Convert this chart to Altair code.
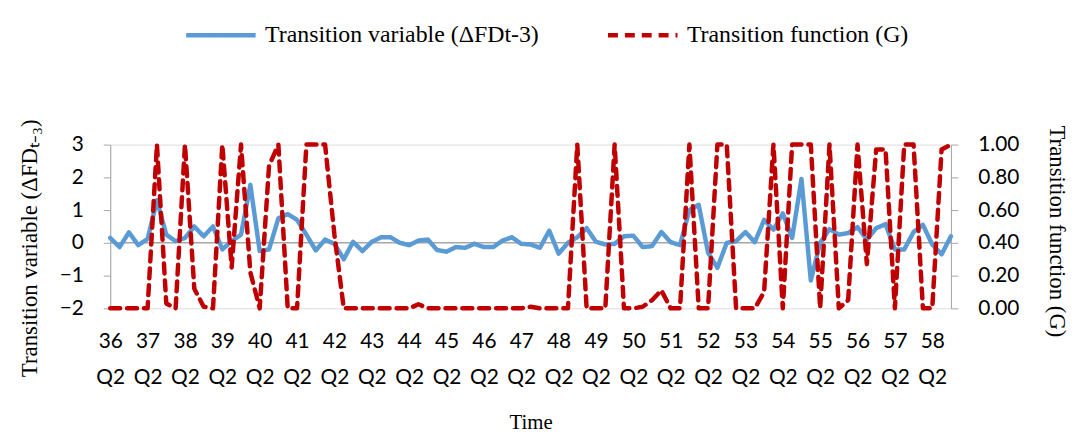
import altair as alt
import pandas as pd

# Quarterly periods 36 Q2 ... 58 Q4 (91 observations)
years = list(range(36, 59))
periods = []
for i in range(91):
    y = 36 + (i + 1) // 4
    q = (i + 1) % 4 + 1
    periods.append(f"{y} Q{q}")
tick_labels = [f"{y} Q2" for y in years]

transition_variable = [
    0.15, -0.13, 0.32, -0.07, 0.12, 1.30, 0.25, 0.05, 0.15, 0.50,
    0.20, 0.50, -0.20, 0.05, 0.25, 1.77, -0.25, -0.20, 0.75, 0.88,
    0.70, 0.25, -0.23, 0.10, -0.03, -0.50, 0.03, -0.25, 0.03, 0.17,
    0.17, 0.00, -0.07, 0.07, 0.10, -0.22, -0.27, -0.13, -0.15, -0.03,
    -0.13, -0.13, 0.07, 0.17, -0.03, -0.05, -0.15, 0.37, -0.33, 0.00,
    0.17, 0.45, 0.03, -0.05, -0.03, 0.20, 0.22, -0.13, -0.10, 0.33,
    0.02, -0.07, 1.00, 1.16, -0.30, -0.76, 0.00, 0.05, 0.33, 0.02,
    0.70, 0.40, 0.90, 0.15, 1.95, -1.15, 0.00, 0.42, 0.25, 0.30,
    0.48, 0.10, 0.45, 0.57, -0.20, -0.20, 0.33, 0.55, -0.05, -0.35,
    0.20,
]

transition_function = [
    0.00, 0.00, 0.00, 0.00, 0.00, 1.00, 0.03, 0.00, 1.00, 0.12,
    0.01, 0.00, 1.00, 0.25, 1.00, 0.22, 0.00, 0.87, 1.00, 0.00,
    0.00, 1.00, 1.00, 1.00, 0.45, 0.00, 0.00, 0.00, 0.00, 0.00,
    0.00, 0.00, 0.00, 0.025, 0.00, 0.00, 0.00, 0.00, 0.00, 0.00,
    0.00, 0.00, 0.00, 0.00, 0.00, 0.01, 0.00, 0.00, 0.00, 0.00,
    1.00, 0.00, 0.00, 0.00, 1.00, 0.00, 0.00, 0.01, 0.05, 0.11,
    0.00, 0.00, 1.00, 0.00, 0.00, 1.00, 1.00, 0.00, 0.00, 0.00,
    0.10, 1.00, 0.00, 1.00, 1.00, 1.00, 0.00, 1.00, 0.00, 0.05,
    1.00, 0.27, 0.97, 0.97, 0.00, 1.00, 1.00, 0.00, 0.00, 0.97,
    1.00,
]

series_names = ["Transition variable (ΔFDt-3)", "Transition function (G)"]
series_colors = ["#5b9bd5", "#c00000"]
series_dashes = [[1, 0], [10, 7]]

df = pd.DataFrame({
    "t": periods * 2,
    "value": transition_variable + transition_function,
    "series": [series_names[0]] * 91 + [series_names[1]] * 91,
})
zero_df = pd.DataFrame({"z": [0]})

SERIF = "Liberation Serif"
SANS = "Lato"
GRAY = "#a6a6a6"

x_enc = alt.X(
    "t:O",
    sort=periods,
    scale=alt.Scale(type="point", padding=0),
    axis=alt.Axis(
        values=tick_labels,
        labelExpr="split(datum.label, ' ')",
        labelAngle=0,
        domain=False,
        ticks=False,
        tickSize=0,
        labelPadding=22,
        labelFont=SANS,
        labelFontSize=21,
        labelColor="black",
        labelLineHeight=37,
        title="Time",
        titleFont=SERIF,
        titleFontSize=21,
        titleFontWeight="normal",
        titleColor="black",
        titlePadding=24,
    ),
)

legend = alt.Legend(
    title=None,
    orient="none",
    legendX=74,
    legendY=-148,
    direction="horizontal",
    symbolType="stroke",
    symbolSize=4900,
    symbolStrokeWidth=4.5,
    labelFont=SERIF,
    labelFontSize=24,
    labelColor="black",
    labelLimit=600,
    labelOffset=7,
    columnPadding=60,
)
color_enc = alt.Color(
    "series:N",
    scale=alt.Scale(domain=series_names, range=series_colors),
    legend=legend,
)
dash_enc = alt.StrokeDash(
    "series:N",
    scale=alt.Scale(domain=series_names, range=series_dashes),
    legend=legend,
)

left_scale = alt.Scale(domain=[-2, 3], nice=False, zero=False)
right_scale = alt.Scale(domain=[0, 1], nice=False)

left_axis = alt.Axis(
    values=[-2, -1, 0, 1, 2, 3],
    grid=False,
    domainColor=GRAY,
    tickColor=GRAY,
    tickSize=7,
    labelFont=SANS,
    labelFontSize=21,
    labelColor="black",
    labelPadding=20,
    title="Transition variable (ΔFDₜ₋₃)",
    titleFont=SERIF,
    titleFontSize=23,
    titleFontWeight="normal",
    titleColor="black",
    titlePadding=18,
    titleY=104,
)

zero_rule = alt.Chart(zero_df).mark_rule(color=GRAY, strokeWidth=1.5).encode(
    y=alt.Y("z:Q", scale=left_scale, axis=left_axis)
)

blue = alt.Chart(df).transform_filter(
    alt.datum.series == series_names[0]
).mark_line(strokeWidth=4.5, strokeCap="round", strokeJoin="round").encode(
    x=x_enc,
    y=alt.Y("value:Q", scale=left_scale, axis=left_axis),
    color=color_enc,
    strokeDash=dash_enc,
)

red = alt.Chart(df).transform_filter(
    alt.datum.series == series_names[1]
).mark_line(strokeWidth=4.5, strokeCap="round", strokeJoin="round").encode(
    x=x_enc,
    y=alt.Y(
        "value:Q",
        scale=right_scale,
        axis=alt.Axis(
            orient="right",
            values=[0, 0.2, 0.4, 0.6, 0.8, 1.0],
            format=".2f",
            grid=False,
            domainColor=GRAY,
            tickColor=GRAY,
            tickSize=7,
            labelFont=SANS,
            labelFontSize=21,
            labelColor="black",
            labelPadding=20,
            title="Transition function (G)",
            titleFont=SERIF,
            titleFontSize=23,
            titleFontWeight="normal",
            titleColor="black",
            titlePadding=26,
            titleY=87,
        ),
    ),
    color=color_enc,
    strokeDash=dash_enc,
)

chart = alt.layer(alt.layer(zero_rule, blue), red).resolve_scale(
    y="independent"
).properties(
    width=847,
    height=165,
    autosize=alt.AutoSizeParams(type="none"),
    padding={"left": 103, "top": 136, "right": 125, "bottom": 128},
).configure_view(stroke=None).configure(background="white")

chart.save("out.html", embed_options={"renderer": "svg", "actions": False})
